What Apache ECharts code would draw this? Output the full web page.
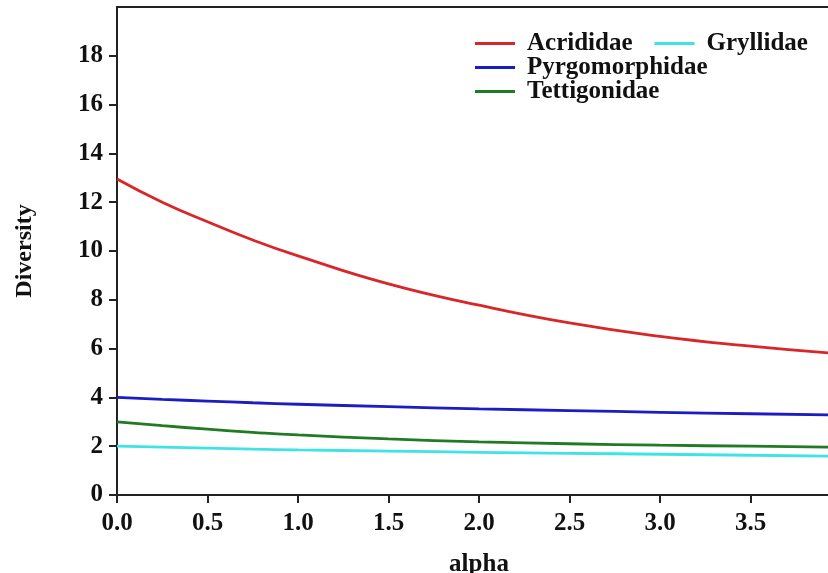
<!DOCTYPE html>
<html>
<head>
<meta charset="utf-8">
<script src="https://cdn.jsdelivr.net/npm/echarts@6/dist/echarts.min.js"></script>
<style>
  html, body { margin: 0; padding: 0; background: #fff; }
  #chart { width: 828px; height: 573px; }
</style>
</head>
<body>
<div id="chart"></div>
<script>
// values
const alpha = [0, 0.25, 0.5, 0.75, 1.0, 1.5, 2.0, 2.5, 3.0, 3.5, 4.0]
const acrididae = [12.95, 12.0, 11.2, 10.45, 9.8, 8.65, 7.78, 7.05, 6.5, 6.1, 5.78]
const pyrgomorphidae = [4.0, 3.92, 3.85, 3.78, 3.72, 3.62, 3.53, 3.46, 3.39, 3.33, 3.28]
const tettigonidae = [3.0, 2.84, 2.7, 2.57, 2.46, 2.3, 2.18, 2.1, 2.04, 2.0, 1.96]
const gryllidae = [2.0, 1.96, 1.92, 1.88, 1.85, 1.8, 1.75, 1.71, 1.67, 1.63, 1.59]
const yTicks = [0, 2, 4, 6, 8, 10, 12, 14, 16, 18]
const xTicks = [0, 0.5, 1.0, 1.5, 2.0, 2.5, 3.0, 3.5]

const font = '"Liberation Serif", "DejaVu Serif", serif'

function pairs (ys) {
  return alpha.map((a, i) => [a, ys[i]])
}

let chart = echarts.init(document.getElementById('chart'))

function line (name, color, ys) {
  return {
    name: name,
    type: 'line',
    data: pairs(ys),
    smooth: true,
    showSymbol: false,
    lineStyle: { color: color, width: 2.8 },
    itemStyle: { color: color }
  }
}

function legend (names, top) {
  return {
    data: names,
    left: 475,
    top: top,
    icon: 'rect',
    itemWidth: 40,
    itemHeight: 3,
    itemGap: 22,
    padding: 0,
    textStyle: {
      fontFamily: font,
      fontWeight: 'bold',
      fontSize: 25,
      lineHeight: 24,
      color: '#111',
      padding: [0, 0, 0, 7]
    }
  }
}

chart.setOption({
  animation: false,
  grid: {
    left: 117,
    right: -13,
    top: 7,
    bottom: 78,
    outerBoundsMode: 'none',
    show: true,
    borderColor: '#222',
    borderWidth: 2,
    backgroundColor: 'transparent'
  },
  legend: [
    legend(['Acrididae', 'Gryllidae'], 31),
    legend(['Pyrgomorphidae'], 55),
    legend(['Tettigonidae'], 79)
  ],
  xAxis: {
    type: 'value',
    min: 0,
    max: 4,
    interval: 0.5,
    name: 'alpha',
    nameLocation: 'middle',
    nameGap: 57,
    nameTextStyle: { fontFamily: font, fontWeight: 'bold', fontSize: 25, color: '#111' },
    axisLine: { show: true, lineStyle: { color: '#222', width: 2 } },
    axisTick: { show: true, length: 8, customValues: xTicks, lineStyle: { color: '#222', width: 2 } },
    splitLine: { show: false },
    axisLabel: {
      fontFamily: font,
      fontWeight: 'bold',
      fontSize: 25,
      color: '#111',
      margin: 16,
      customValues: xTicks,
      formatter: v => v.toFixed(1)
    }
  },
  yAxis: {
    type: 'value',
    min: 0,
    max: 20,
    interval: 2,
    name: 'Diversity',
    nameLocation: 'middle',
    nameGap: 80,
    nameTextStyle: { fontFamily: font, fontWeight: 'bold', fontSize: 24, color: '#111' },
    axisLine: { show: true, lineStyle: { color: '#222', width: 2 } },
    axisTick: { show: true, length: 8, customValues: yTicks, lineStyle: { color: '#222', width: 2 } },
    splitLine: { show: false },
    axisLabel: {
      fontFamily: font,
      fontWeight: 'bold',
      fontSize: 25,
      color: '#111',
      margin: 14,
      customValues: yTicks,
      formatter: v => String(v)
    }
  },
  series: [
    line('Acrididae', '#d8262a', acrididae),
    line('Pyrgomorphidae', '#1c1cc4', pyrgomorphidae),
    line('Tettigonidae', '#217a24', tettigonidae),
    line('Gryllidae', '#3fe3e6', gryllidae)
  ]
})

window.addEventListener('resize', () => chart.resize())
</script>
</body>
</html>
